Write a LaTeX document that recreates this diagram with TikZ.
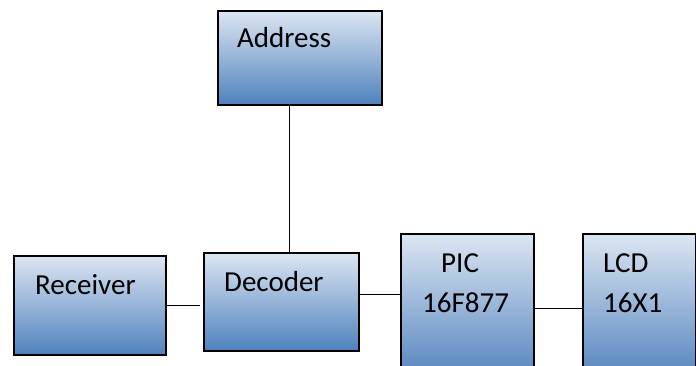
\documentclass[tikz,border=0pt]{standalone}
\usepackage{fontspec}
\setmainfont{Carlito}
\definecolor{boxtop}{RGB}{220,230,242}
\definecolor{boxmid}{RGB}{178,199,226}
\definecolor{boxbot}{RGB}{79,129,189}
\tikzset{
  blk/.style={draw=black, line width=1.7pt, top color=boxtop, middle color=boxmid, bottom color=boxbot, inner sep=0pt, anchor=north west},
  lbl/.style={anchor=base west, inner sep=0pt, font=\fontsize{29}{34}\selectfont},
  wire/.style={draw=black, line width=1.1pt}
}
\begin{document}
\begin{tikzpicture}[x=1pt,y=-1pt]
\useasboundingbox (0,0) rectangle (696,366);
\clip (0,0) rectangle (696,366);
\fill[white] (0,0) rectangle (696,366);
\node[blk, minimum width=164pt, minimum height=94pt] (address) at (217,10) {};
\node[blk, minimum width=152pt, minimum height=99pt] (receiver) at (13,255) {};
\node[blk, minimum width=155pt, minimum height=98pt] (decoder) at (203,252) {};
\node[blk, minimum width=133pt, minimum height=150pt] (pic) at (400,233) {};
\node[blk, minimum width=113pt, minimum height=150pt] (lcd) at (582,233) {};
\node[lbl] (taddr) at (237,48) {Address};
\node[lbl] (trec) at (35,294) {Receiver};
\node[lbl] (tdec) at (224,291) {Decoder};
\node[lbl] (tpic) at (441,272) {PIC};
\node[lbl] (tpicn) at (422,312) {16F877};
\node[lbl] (tlcd) at (603,272) {LCD};
\node[lbl] (tlcdn) at (603,312) {16X1};
\draw[wire] ([xshift=-10pt]address.south) -- ([xshift=8.5pt]decoder.north);
\draw[wire] (receiver.east) -- ([xshift=-3pt]receiver.east -| decoder.west);
\draw[wire] ([yshift=7pt]decoder.east) -- ([yshift=7pt]decoder.east -| pic.west);
\draw[wire] (pic.east) -- (lcd.west);
\end{tikzpicture}
\end{document}
